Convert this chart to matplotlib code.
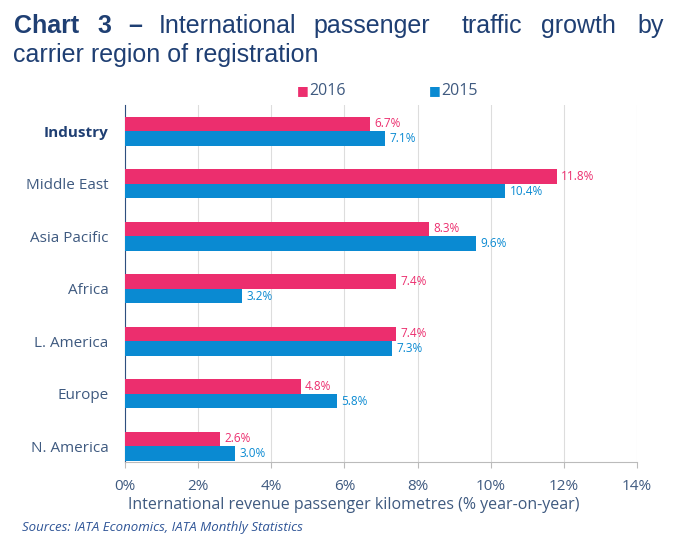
import matplotlib.pyplot as plt
import numpy as np

plt.rcParams['font.family'] = ['Open Sans', 'DejaVu Sans']

# data
regions = ['Industry', 'Middle East', 'Asia Pacific', 'Africa', 'L. America', 'Europe', 'N. America']
growth_2016 = [6.7, 11.8, 8.3, 7.4, 7.4, 4.8, 2.6]
growth_2015 = [7.1, 10.4, 9.6, 3.2, 7.3, 5.8, 3.0]
xticks = [0, 2, 4, 6, 8, 10, 12, 14]

pink = '#EC2E6E'
blue = '#0A8AD2'
navy = '#1F3F73'
tickc = '#3F5A80'

fig = plt.figure(figsize=(6.85, 5.45), dpi=100)
W, H = 685, 545
ax = fig.add_axes([125 / W, 1 - 462 / H, (637 - 125) / W, (462 - 105) / H])

y = np.arange(len(regions))
h = 0.28
ax.barh(y - h / 2, growth_2016, height=h, color=pink, zorder=3)
ax.barh(y + h / 2, growth_2015, height=h, color=blue, zorder=3)

for yi, v in zip(y, growth_2016):
    ax.text(v + 0.12, yi - h / 2, f'{v:.1f}%', color=pink, fontsize=8.5, va='center')
for yi, v in zip(y, growth_2015):
    ax.text(v + 0.12, yi + h / 2, f'{v:.1f}%', color=blue, fontsize=8.5, va='center')

ax.set_ylim(len(regions) - 0.7, -0.5)
ax.set_xlim(0, 14)
ax.set_xticks(xticks)
ax.set_xticklabels([f'{t}%' for t in xticks], fontsize=11, color=tickc)
ax.set_yticks(y)
ax.set_yticklabels(regions, fontsize=11, color=tickc)
ax.get_yticklabels()[0].set_fontweight('bold')
ax.get_yticklabels()[0].set_color(navy)
ax.tick_params(axis='y', length=0, pad=12)
ax.tick_params(axis='x', length=4, color='#BBBBBB', pad=8)
ax.grid(axis='x', color='#DDDDDD', lw=0.8, zorder=0)
for s in ['top', 'right']:
    ax.spines[s].set_visible(False)
ax.spines['left'].set_color('#2F4F7F')
ax.spines['bottom'].set_color('#BBBBBB')

# x axis title sits a little left of the axes centre in the original
fig.text(354 / W, 1 - 505 / H, 'International revenue passenger kilometres (% year-on-year)',
         fontsize=11.5, color=tickc, ha='center', va='center')

# legend
fig.text(297 / W, 1 - 91 / H, '■', color=pink, fontsize=9, va='center')
fig.text(309 / W, 1 - 91 / H, '2016', color=tickc, fontsize=11.5, va='center')
fig.text(429 / W, 1 - 91 / H, '■', color=blue, fontsize=9, va='center')
fig.text(441 / W, 1 - 91 / H, '2015', color=tickc, fontsize=11.5, va='center')

# title, justified by words
tf = ['Liberation Sans', 'DejaVu Sans']
ty = 1 - 33 / H
for word, xp in [('Chart', 14), ('3', 97), ('\u2013', 128)]:
    fig.text(xp / W, ty, word, family=tf, fontsize=18, fontweight='bold', color=navy, va='baseline')
for word, xp in [('International', 159), ('passenger', 313), ('traffic', 462), ('growth', 541)]:
    fig.text(xp / W, ty, word, family=tf, fontsize=18, color=navy, va='baseline')
fig.text(664 / W, ty, 'by', family=tf, fontsize=18, color=navy, va='baseline', ha='right')
fig.text(13 / W, 1 - 62 / H, 'carrier region of registration', family=tf, fontsize=18, color=navy, va='baseline')

fig.text(22 / W, 1 - 527 / H, 'Sources: IATA Economics, IATA Monthly Statistics', fontsize=9.5,
         style='italic', color='#2F5597', va='center')

plt.savefig('out.png', dpi=100)
